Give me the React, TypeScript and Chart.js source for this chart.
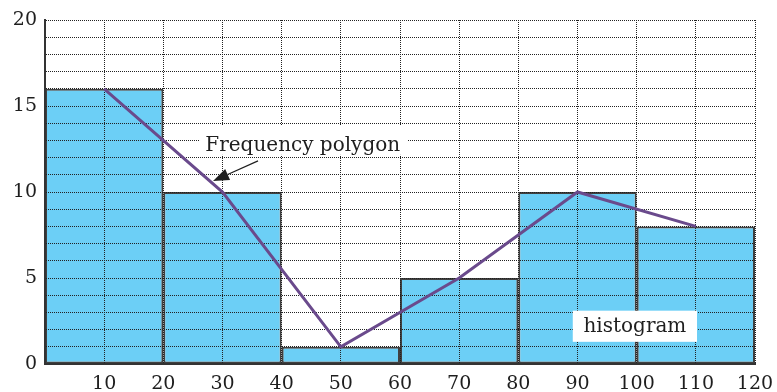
import React, { useEffect, useRef } from "react";
import { Chart, registerables } from "chart.js";

Chart.register(...registerables);

// Class intervals: 0-20, 20-40, ..., 100-120 (midpoints below)
const classMidpoints = [10, 30, 50, 70, 90, 110];
const frequencies = [16, 10, 1, 5, 10, 8];
const xTickLabels = ["", "10", "20", "30", "40", "50", "60", "70", "80", "90", "100", "110", "120"];
const yTickLabels = ["0", "5", "10", "15", "20"];

const FONT = "DejaVu Serif";

export default function App() {
  const ref = useRef<HTMLCanvasElement>(null);

  useEffect(() => {
    if (!ref.current) return;

    const gridOnTop = {
      id: "gridOnTop",
      afterDatasetDraw(chart: any, args: any) {
        const ds = chart.data.datasets[args.index];
        if (ds.type !== "bar") return;
        const area = chart.chartArea;
        const ctx = chart.ctx;
        ctx.save();
        chart.scales.x.drawGrid(area);
        chart.scales.y.drawGrid(area);
        chart.scales.x.drawBorder();
        chart.scales.y.drawBorder();
        ctx.restore();
      },
    };

    const annotations = {
      id: "annotations",
      afterDraw(chart: any) {
        const ctx = chart.ctx;
        const xs = chart.scales.x;
        const ys = chart.scales.y;
        const px = (v: number) => xs.getPixelForValue(v);
        const py = (v: number) => ys.getPixelForValue(v);
        ctx.save();
        ctx.font = `20px "${FONT}"`;
        ctx.textBaseline = "alphabetic";

        // Frequency polygon label
        ctx.fillStyle = "#ffffff";
        ctx.fillRect(px(26.2), py(13.86), px(61.3) - px(26.2), py(12.16) - py(13.86));
        ctx.fillStyle = "#1e1e1e";
        ctx.textAlign = "left";
        ctx.fillText("Frequency polygon", px(27.1), py(12.4));

        // Arrow
        const x1 = px(36.0), y1 = py(11.81);
        const x2 = px(28.4), y2 = py(10.64);
        const ang = Math.atan2(y2 - y1, x2 - x1);
        const headLen = 16, headW = 6;
        const bx = x2 - headLen * Math.cos(ang);
        const by = y2 - headLen * Math.sin(ang);
        ctx.strokeStyle = "#1e1e1e";
        ctx.lineWidth = 1.2;
        ctx.beginPath();
        ctx.moveTo(x1, y1);
        ctx.lineTo(bx, by);
        ctx.stroke();
        ctx.beginPath();
        ctx.moveTo(x2, y2);
        ctx.lineTo(bx + headW * Math.sin(ang), by - headW * Math.cos(ang));
        ctx.lineTo(bx - headW * Math.sin(ang), by + headW * Math.cos(ang));
        ctx.closePath();
        ctx.fillStyle = "#1e1e1e";
        ctx.fill();

        // histogram label
        ctx.fillStyle = "#ffffff";
        ctx.fillRect(px(89.2), py(3.1), px(110.2) - px(89.2), py(1.29) - py(3.1));
        ctx.fillStyle = "#1e1e1e";
        ctx.textAlign = "center";
        ctx.fillText("histogram", px(99.7), py(1.87));
        ctx.restore();
      },
    };

    const chart = new Chart(ref.current, {
      type: "bar",
      data: {
        datasets: [
          {
            type: "line",
            label: "Frequency polygon",
            data: classMidpoints.map((x, i) => ({ x, y: frequencies[i] })),
            borderColor: "#6a4a8c",
            borderWidth: 3,
            pointRadius: 0,
            tension: 0,
            fill: false,
            order: 1,
          } as any,
          {
            type: "bar",
            label: "histogram",
            data: classMidpoints.map((x, i) => ({ x, y: frequencies[i] })),
            backgroundColor: "#6ccff6",
            borderColor: "#404040",
            borderWidth: 2,
            borderSkipped: false,
            // the bar ruler uses the 10-unit tick spacing; each class spans 20 units
            barPercentage: 2,
            categoryPercentage: 1,
            order: 2,
          } as any,
        ],
      },
      options: {
        animation: false,
        responsive: true,
        maintainAspectRatio: false,
        layout: { padding: { top: 20, right: 22, left: 0, bottom: 0 } },
        plugins: {
          legend: { display: false },
          tooltip: { enabled: false },
        },
        scales: {
          x: {
            type: "linear",
            min: 0,
            max: 120,
            offset: false,
            grid: { offset: false, color: "#222222", lineWidth: 1, drawTicks: false },
            border: { display: true, color: "#333333", width: 2, dash: [1, 1] },
            ticks: {
              stepSize: 10,
              autoSkip: false,
              maxRotation: 0,
              padding: 9,
              color: "#1e1e1e",
              font: { family: FONT, size: 19 },
              callback: (v: any) => xTickLabels[Math.round(Number(v) / 10)] ?? "",
            },
            afterFit: (s: any) => {
              s.height = 28;
              s.paddingLeft = 0;
              s.paddingRight = 0;
            },
          },
          y: {
            type: "linear",
            min: 0,
            max: 20,
            grid: { color: "#222222", lineWidth: 1, drawTicks: false },
            border: { display: true, color: "#333333", width: 2, dash: [1, 1] },
            ticks: {
              stepSize: 1,
              autoSkip: false,
              padding: 8,
              color: "#1e1e1e",
              font: { family: FONT, size: 19 },
              callback: (v: any) => (Number(v) % 5 === 0 ? yTickLabels[Number(v) / 5] : ""),
            },
            afterFit: (s: any) => {
              s.width = 45;
              s.paddingTop = 0;
              s.paddingBottom = 0;
            },
          },
        },
      } as any,
      plugins: [gridOnTop, annotations],
    });

    return () => chart.destroy();
  }, []);

  return (
    <div style={{ position: "fixed", left: 0, top: 0, width: 777, height: 392, background: "#fff" }}>
      <canvas ref={ref} />
    </div>
  );
}
